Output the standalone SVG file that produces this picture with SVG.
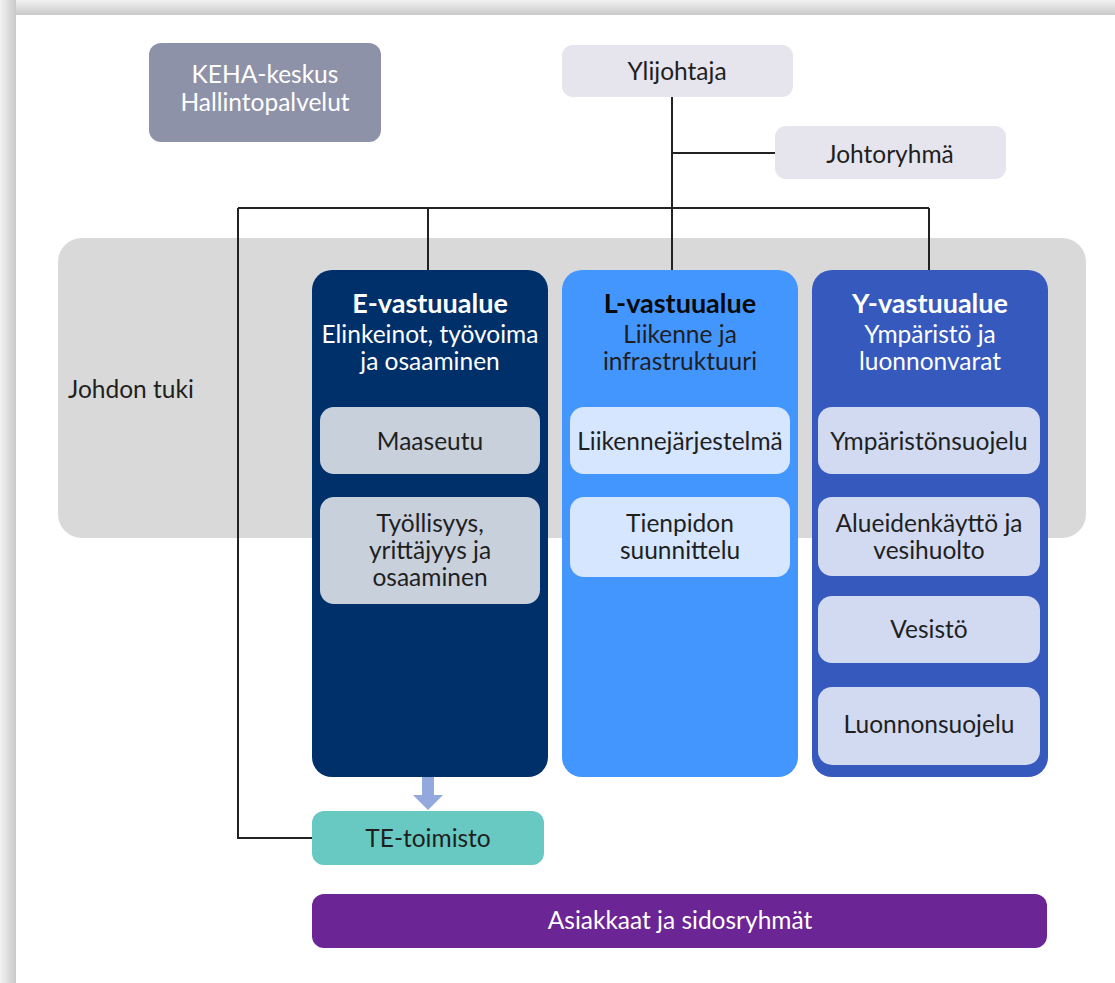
<svg xmlns="http://www.w3.org/2000/svg" width="1115" height="983" viewBox="0 0 1115 983">
<defs>
<linearGradient id="shT" x1="0" y1="0" x2="0" y2="1"><stop offset="0" stop-color="#f2f2f2"/><stop offset="1" stop-color="#c9c9c9"/></linearGradient>
<linearGradient id="shL" x1="0" y1="0" x2="1" y2="0"><stop offset="0" stop-color="#f2f2f2"/><stop offset="1" stop-color="#c9c9c9"/></linearGradient>
<style>
text{font-family:Lato,"Open Sans","Liberation Sans",sans-serif;font-size:24.5px;text-anchor:middle}
.dk{fill:#1f1f1f}
.wh{fill:#ffffff}
.ttl{font-size:27px;font-weight:bold}
.ln{stroke:#222;stroke-width:2;fill:none}
</style>
</defs>
<rect x="0" y="0" width="1115" height="983" fill="#ffffff"/>
<rect x="0" y="0" width="1115" height="15" fill="url(#shT)"/>
<rect x="0" y="0" width="16" height="983" fill="url(#shL)"/>
<rect x="16" y="15" width="1099" height="968" fill="#ffffff"/>

<g id="johdon-tuki">
<rect x="58" y="238" width="1028" height="300" rx="24" fill="#d9d9d9"/>
<text x="68" y="398" class="dk" style="text-anchor:start">Johdon tuki</text>
</g>

<g id="connectors">
<path class="ln" d="M672 97V270M672 153H775M238 208H929M428 208V270M929 208V270M238 208V838H312"/>
<path d="M422 777H434V795H443L428 810L413 795H422Z" fill="#93a8dc"/>
</g>

<g id="keha">
<rect x="149" y="43" width="232" height="99" rx="12" fill="#8e92a8"/>
<text x="265" y="83" class="wh">KEHA-keskus</text>
<text x="265" y="111" class="wh">Hallintopalvelut</text>
</g>

<g id="ylijohtaja">
<rect x="562" y="45" width="231" height="52" rx="11" fill="#e6e4ec"/>
<text x="677" y="80" class="dk">Ylijohtaja</text>
</g>

<g id="johtoryhma">
<rect x="775" y="126" width="231" height="53" rx="11" fill="#e6e4ec"/>
<text x="890" y="163" class="dk">Johtoryhmä</text>
</g>

<g id="e-vastuualue">
<rect x="312" y="270" width="236" height="507" rx="20" fill="#003069"/>
<text x="430" y="313" class="wh ttl">E-vastuualue</text>
<text x="430" y="343" class="wh">Elinkeinot, työvoima</text>
<text x="430" y="370" class="wh">ja osaaminen</text>
</g>
<g id="maaseutu">
<rect x="320" y="407" width="220" height="67" rx="14" fill="#c8d0dc"/>
<text x="430" y="450" class="dk">Maaseutu</text>
</g>
<g id="tyollisyys">
<rect x="320" y="497" width="220" height="107" rx="14" fill="#c8d0dc"/>
<text x="430" y="532" class="dk">Työllisyys,</text>
<text x="430" y="559" class="dk">yrittäjyys ja</text>
<text x="430" y="586" class="dk">osaaminen</text>
</g>

<g id="l-vastuualue">
<rect x="562" y="270" width="236" height="507" rx="20" fill="#4496ff"/>
<text x="680" y="313" class="dk ttl" style="fill:#0a0a0a">L-vastuualue</text>
<text x="680" y="343" class="dk">Liikenne ja</text>
<text x="680" y="370" class="dk">infrastruktuuri</text>
</g>
<g id="liikennejarjestelma">
<rect x="570" y="407" width="220" height="67" rx="14" fill="#d6e6ff"/>
<text x="680" y="450" class="dk">Liikennejärjestelmä</text>
</g>
<g id="tienpidon">
<rect x="570" y="497" width="220" height="80" rx="14" fill="#d6e6ff"/>
<text x="680" y="532" class="dk">Tienpidon</text>
<text x="680" y="559" class="dk">suunnittelu</text>
</g>

<g id="y-vastuualue">
<rect x="812" y="270" width="236" height="507" rx="20" fill="#3659bd"/>
<text x="930" y="313" class="wh ttl">Y-vastuualue</text>
<text x="930" y="343" class="wh">Ympäristö ja</text>
<text x="930" y="370" class="wh">luonnonvarat</text>
</g>
<g id="ymparistonsuojelu">
<rect x="818" y="407" width="222" height="67" rx="14" fill="#d1daf0"/>
<text x="929" y="450" class="dk">Ympäristönsuojelu</text>
</g>
<g id="alueidenkaytto">
<rect x="818" y="497" width="222" height="79" rx="14" fill="#d1daf0"/>
<text x="929" y="532" class="dk">Alueidenkäyttö ja</text>
<text x="929" y="559" class="dk">vesihuolto</text>
</g>
<g id="vesisto">
<rect x="818" y="596" width="222" height="67" rx="14" fill="#d1daf0"/>
<text x="929" y="638" class="dk">Vesistö</text>
</g>
<g id="luonnonsuojelu">
<rect x="818" y="687" width="222" height="78" rx="14" fill="#d1daf0"/>
<text x="929" y="733" class="dk">Luonnonsuojelu</text>
</g>

<g id="te-toimisto">
<rect x="312" y="811" width="232" height="54" rx="12" fill="#67c9c1"/>
<text x="428" y="847" class="dk">TE-toimisto</text>
</g>

<g id="asiakkaat">
<rect x="312" y="894" width="735" height="54" rx="12" fill="#6b2594"/>
<text x="680" y="929" class="wh">Asiakkaat ja sidosryhmät</text>
</g>
</svg>
